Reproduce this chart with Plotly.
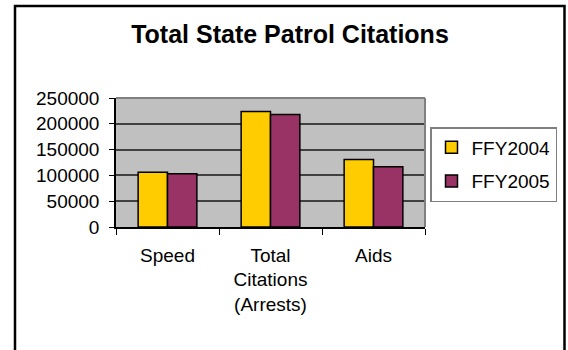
import plotly.graph_objects as go

categories = ["Speed", "Total<br>Citations<br>(Arrests)", "Aids"]
ffy2004 = [106000, 224000, 131000]
ffy2005 = [103000, 218000, 117000]
series_names = ["FFY2004", "FFY2005"]
y_ticks = [0, 50000, 100000, 150000, 200000, 250000]

W, H = 568, 350
L, R, T, B = 116, 143, 98, 123
pw, ph = W - L - R, H - T - B

def px_x(px):
    return (px - L) / pw

def px_y(py):
    return (H - B - py) / ph

font = "Liberation Sans, Arial, sans-serif"

fig = go.Figure()
fig.add_trace(go.Bar(x=categories, y=ffy2004, name=series_names[0], legendgroup="a",
                     marker=dict(color="#FFCC00", line=dict(color="black", width=1.5))))
fig.add_trace(go.Bar(x=categories, y=ffy2005, name=series_names[1], legendgroup="b",
                     marker=dict(color="#993366", line=dict(color="black", width=1.5))))

fig.update_layout(
    width=W, height=H,
    margin=dict(l=L, r=R, t=T, b=B, autoexpand=False),
    paper_bgcolor="white",
    plot_bgcolor="#C0C0C0",
    barmode="group",
    bargap=0.43,
    bargroupgap=0,
    font=dict(family=font, size=19, color="black"),
    title=dict(text="<b>Total State Patrol Citations</b>", x=290 / W, xanchor="center",
               y=1 - 34 / H, yanchor="middle", yref="container",
               font=dict(family=font, size=25, color="black")),
    legend=dict(x=px_x(557), xanchor="right", y=px_y(127), yanchor="top",
                bgcolor="white", bordercolor="#808080", borderwidth=1.5,
                traceorder="grouped", tracegroupgap=6, itemwidth=30,
                font=dict(family=font, size=19, color="black")),
    xaxis=dict(showline=True, linecolor="black", linewidth=1.5, tickson="boundaries",
               ticks="outside", ticklen=6, tickcolor="black", showgrid=False,
               ticklabelstandoff=10, tickfont=dict(family=font, size=19)),
    yaxis=dict(range=[0, 250000], tickvals=y_ticks, tickformat="d", showline=True,
               linecolor="black", linewidth=1.5, ticks="outside", ticklen=5,
               tickcolor="black", showgrid=True, gridcolor="#404040", gridwidth=1.5,
               zeroline=False, ticklabelstandoff=6, tickfont=dict(family=font, size=19)),
    showlegend=True,
)

# plot area border (top and right, gray)
fig.add_shape(type="line", xref="paper", yref="paper", x0=0, x1=1, y0=1, y1=1,
              line=dict(color="#808080", width=2))
fig.add_shape(type="line", xref="paper", yref="paper", x0=1, x1=1, y0=0, y1=1,
              line=dict(color="#808080", width=2))
# chart outer frame
fig.add_shape(type="rect", xref="paper", yref="paper",
              x0=px_x(15), x1=px_x(564.5), y0=px_y(360), y1=px_y(6),
              line=dict(color="black", width=2.5), layer="above")

fig.write_html("out.html")
